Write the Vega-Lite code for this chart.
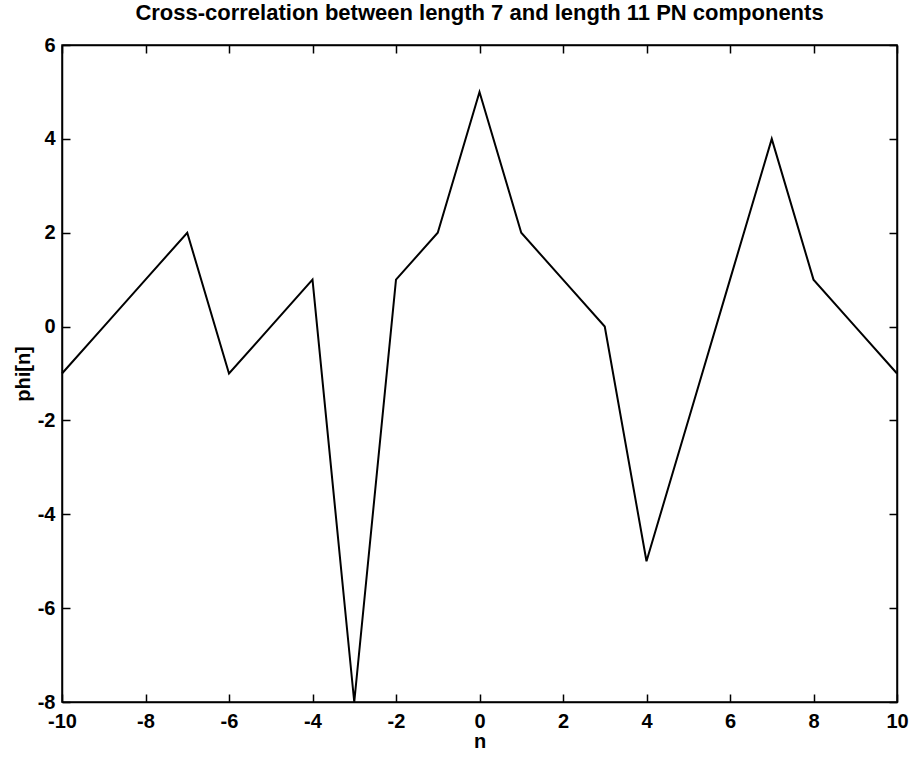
{
  "$schema": "https://vega.github.io/schema/vega-lite/v6.json",
  "width": 835,
  "height": 657,
  "autosize": {"type": "none"},
  "padding": {"left": 62, "top": 45, "right": 18, "bottom": 57},
  "background": "white",
  "config": {
    "view": {"stroke": "black", "strokeWidth": 1.5},
    "font": "Liberation Sans",
    "axis": {
      "grid": false,
      "domainColor": "black",
      "domainWidth": 1.5,
      "tickColor": "black",
      "tickWidth": 1.5,
      "tickSize": -8,
      "labelFlush": false,
      "labelFont": "Liberation Sans",
      "labelFontWeight": "bold",
      "labelFontSize": 20,
      "labelColor": "black",
      "labelExpr": "replace(datum.label, '−', '-')",
      "titleFont": "Liberation Sans",
      "titleFontWeight": "bold",
      "titleFontSize": 20,
      "titleColor": "black"
    }
  },
  "title": {
    "text": "Cross-correlation between length 7 and length 11 PN components",
    "font": "Liberation Sans",
    "fontSize": 22,
    "fontWeight": "bold",
    "color": "black",
    "anchor": "middle",
    "offset": 10
  },
  "data": {
    "values": [
      {"n": -10, "phi": -1},
      {"n": -9, "phi": 0},
      {"n": -8, "phi": 1},
      {"n": -7, "phi": 2},
      {"n": -6, "phi": -1},
      {"n": -5, "phi": 0},
      {"n": -4, "phi": 1},
      {"n": -3, "phi": -8},
      {"n": -2, "phi": 1},
      {"n": -1, "phi": 2},
      {"n": 0, "phi": 5},
      {"n": 1, "phi": 2},
      {"n": 2, "phi": 1},
      {"n": 3, "phi": 0},
      {"n": 4, "phi": -5},
      {"n": 5, "phi": -2},
      {"n": 6, "phi": 1},
      {"n": 7, "phi": 4},
      {"n": 8, "phi": 1},
      {"n": 9, "phi": 0},
      {"n": 10, "phi": -1}
    ]
  },
  "layer": [
    {
      "mark": {"type": "line", "color": "black", "strokeWidth": 2},
      "encoding": {
        "x": {
          "field": "n", "type": "quantitative",
          "scale": {"domain": [-10, 10], "nice": false, "zero": false},
          "axis": {"values": [-10,-8,-6,-4,-2,0,2,4,6,8,10], "title": "n", "labelPadding": 17, "titlePadding": 0}
        },
        "y": {
          "field": "phi", "type": "quantitative",
          "scale": {"domain": [-8, 6], "nice": false, "zero": false},
          "axis": {"values": [-8,-6,-4,-2,0,2,4,6], "title": "phi[n]", "labelPadding": 15, "titleX": -29}
        }
      }
    },
    {
      "mark": {"type": "line", "opacity": 0},
      "encoding": {
        "x": {
          "field": "n", "type": "quantitative",
          "scale": {"domain": [-10, 10], "nice": false, "zero": false},
          "axis": {"orient": "top", "values": [-10,-8,-6,-4,-2,0,2,4,6,8,10], "labels": false, "title": null}
        },
        "y": {
          "field": "phi", "type": "quantitative",
          "scale": {"domain": [-8, 6], "nice": false, "zero": false},
          "axis": {"orient": "right", "values": [-8,-6,-4,-2,0,2,4,6], "labels": false, "title": null}
        }
      }
    }
  ],
  "resolve": {"axis": {"x": "independent", "y": "independent"}}
}
